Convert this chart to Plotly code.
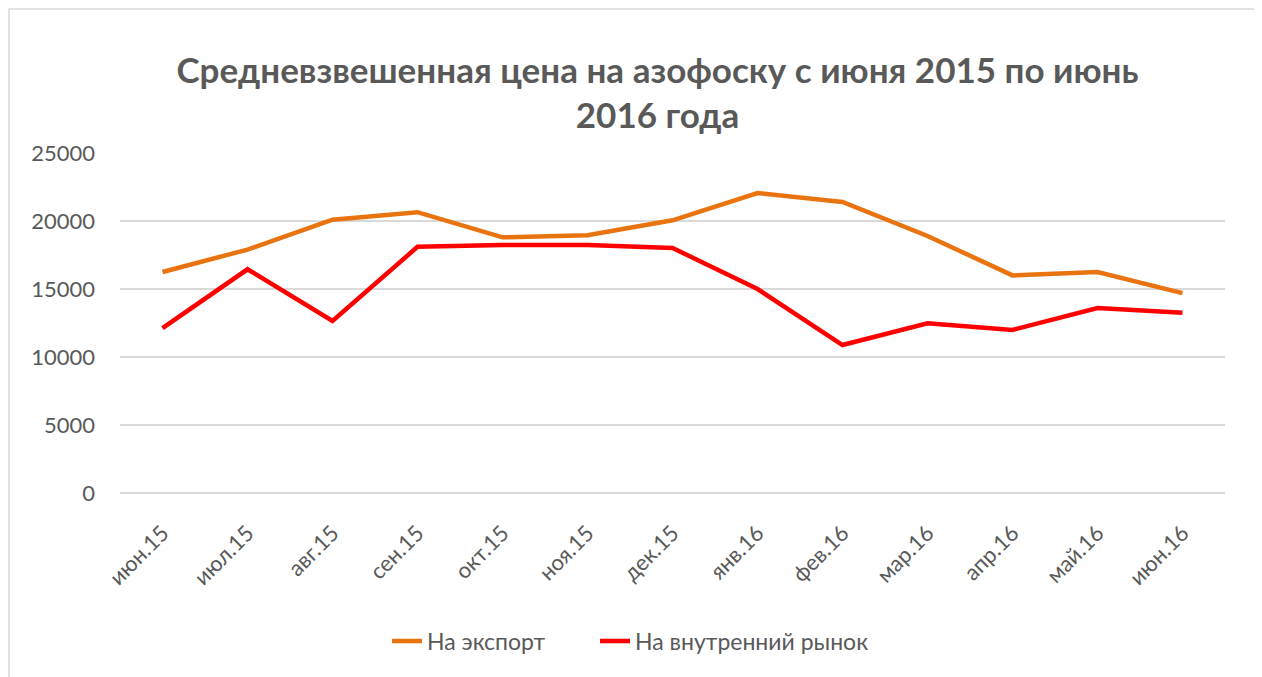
import plotly.graph_objects as go

months = ["июн.15", "июл.15", "авг.15", "сен.15", "окт.15", "ноя.15", "дек.15",
          "янв.16", "фев.16", "мар.16", "апр.16", "май.16", "июн.16"]
export_prices = [16250, 17900, 20100, 20650, 18800, 18950, 20050, 22050, 21400, 18900, 16000, 16250, 14700]
domestic_prices = [12130, 16450, 12650, 18100, 18230, 18230, 18020, 15000, 10880, 12480, 11990, 13600, 13250]
y_ticks = [0, 5000, 10000, 15000, 20000, 25000]

fig = go.Figure()
fig.add_trace(go.Scatter(x=months, y=export_prices, mode="lines", name="На экспорт",
                         line=dict(color="#E9730F", width=4.5), legend="legend"))
fig.add_trace(go.Scatter(x=months, y=domestic_prices, mode="lines", name="На внутренний рынок",
                         line=dict(color="#FF0000", width=4.5), legend="legend2"))

OFF = 8  # page body margin
W, H = 1262 - OFF, 677 - OFF
# plot area in page pixels: x 120..1225, y 153..493
PL, PR, PT, PB = 120, 1225, 153, 493
L = PL - OFF
T = PT - OFF
R = W - (PR - OFF)
B = H - (PB - OFF)

def px_x(p):
    return (p - PL) / (PR - PL)

def px_y(p):
    return (PB - p) / (PB - PT)

leg_common = dict(orientation="h", xanchor="left", y=px_y(641), yanchor="middle",
                  font=dict(size=23, color="#595959"), bgcolor="rgba(0,0,0,0)")

fig.update_layout(
    width=W, height=H,
    margin=dict(l=L, r=R, t=T, b=B, autoexpand=False),
    paper_bgcolor="white", plot_bgcolor="white",
    font=dict(family="Lato, 'Open Sans', sans-serif", color="#595959", size=22),
    title=dict(text="<b>Средневзвешенная цена на азофоску с июня 2015 по июнь<br>2016 года</b>",
               x=(657.5 - OFF) / W, xanchor="center", y=1 - (82.5 - OFF) / H, yanchor="middle",
               font=dict(size=35, color="#595959")),
    showlegend=True,
    legend=dict(x=px_x(387), **leg_common),
    legend2=dict(x=px_x(595), **leg_common),
    xaxis=dict(showgrid=False, tickangle=-45, ticks="", showline=False,
               tickfont=dict(size=22, color="#595959"), range=[-0.5, 12.5],
               ticklabelstandoff=22),
    yaxis=dict(range=[0, 25000], tickvals=y_ticks, tickformat="d", showgrid=True, gridcolor="#D9D9D9",
               gridwidth=1.5, zeroline=True, zerolinecolor="#D9D9D9", zerolinewidth=1.5,
               ticks="", tickfont=dict(size=22, color="#595959"), ticklabelstandoff=24),
    shapes=[dict(type="rect", xref="paper", yref="paper",
                 x0=px_x(9), x1=px_x(1255), y0=px_y(720), y1=px_y(9),
                 line=dict(color="#D9D9D9", width=1.5), fillcolor="rgba(0,0,0,0)", layer="below")],
)

fig.write_html("out.html")
